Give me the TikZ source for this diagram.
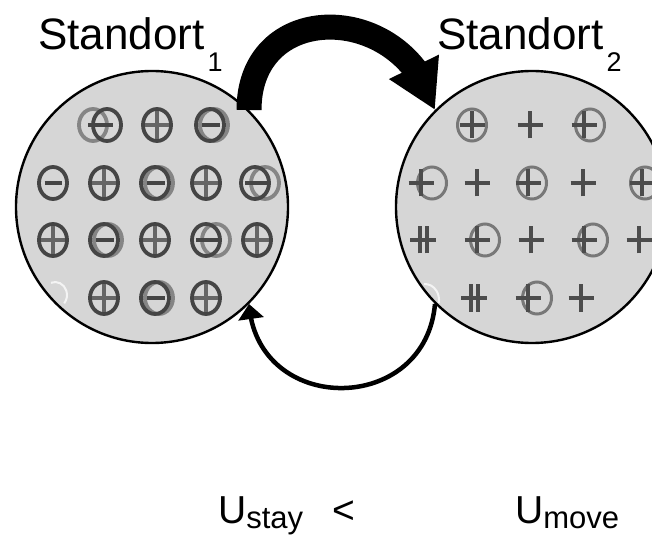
\documentclass[tikz,border=0pt]{standalone}
\usepackage{fontspec}
\setmainfont{Liberation Sans}
\usetikzlibrary{arrows.meta,bending}
\definecolor{ringfill}{gray}{0.84}
\definecolor{symdark}{gray}{0.27}
\definecolor{symbar}{gray}{0.40}
\definecolor{symlight}{gray}{0.52}
\definecolor{symring}{gray}{0.47}
\definecolor{symplus}{gray}{0.30}
\begin{document}
\begin{tikzpicture}[x=1pt,y=1pt,
  zone/.style={circle,draw=black,line width=2.4pt,fill=ringfill,inner sep=0pt,minimum size=272pt},
  lbl/.style={inner sep=0pt,font=\fontsize{44}{44}\selectfont},
  ulbl/.style={inner sep=0pt,font=\fontsize{39}{39}\selectfont},
  darkring/.style={draw=symdark,line width=3.8pt},
  lightring/.style={draw=symlight,line width=3.8pt},
  barline/.style={draw=symbar,line width=3.4pt},
  grayring/.style={draw=symring,line width=3pt},
  plusline/.style={draw=symplus,line width=4pt},
  bigarrow/.style={line width=25pt,-{Triangle[width=52pt,length=48pt]}},
  smallarrow/.style={line width=4.5pt,-{Triangle[width=25pt,length=15pt]}},
  ghost/.style={draw=white,opacity=0.75,line width=2pt},
  lP/.pic={\draw[darkring] (0,0) ellipse[x radius=14,y radius=16];
           \draw[barline] (-12,0)--(12,0) (0,-14)--(0,14);},
  lM/.pic={\draw[darkring] (0,0) ellipse[x radius=14,y radius=16];
           \draw[barline,draw=symdark] (-8.5,0)--(8.5,0);},
  lMb/.pic={\draw[lightring] (4,0) ellipse[x radius=14,y radius=16];
            \draw[darkring] (0,0) ellipse[x radius=14,y radius=16];
            \draw[barline,draw=symdark] (-8,0)--(10,0);},
  lMgL/.pic={\draw[lightring] (-14,0) ellipse[x radius=14,y radius=16];
             \draw[darkring] (0,0) ellipse[x radius=14,y radius=16];
             \draw[barline,draw=symdark] (-19,0)--(6,0);},
  lMgR/.pic={\draw[lightring] (10,0) ellipse[x radius=14,y radius=16];
             \draw[darkring] (0,0) ellipse[x radius=14,y radius=16];
             \draw[barline,draw=symdark] (-10,0)--(12,0);},
  rRing/.pic={\draw[grayring] (0,0) ellipse[x radius=14.5,y radius=16];},
  rPlus/.pic={\draw[plusline] (-12.5,0)--(12.5,0) (0,-13.5)--(0,13.5);},
  rDPlus/.pic={\draw[plusline] (-13,0)--(13,0) (-3.5,-13.5)--(-3.5,13.5) (3.5,-13.5)--(3.5,13.5);}
]
\clip (0,0) rectangle (652,541);
\useasboundingbox (0,0) rectangle (652,541);
\fill[white] (0,0) rectangle (652,541);

% zones
\node[zone] (L) at (152,334) {};
\node[zone] (R) at (532,334) {};

% left symbols
\pic at (107,416) {lMgL};
\pic at (157,416) {lP};
\pic at (210,416) {lMb};
\pic at (53,358) {lM};
\pic at (104,358) {lP};
\pic at (155,358) {lMb};
\pic at (206,358) {lP};
\pic at (255,358) {lMgR};
\pic at (53,301) {lP};
\pic at (104,301) {lMb};
\pic at (155,301) {lP};
\pic at (206,301) {lMgR};
\pic at (257,301) {lP};
\pic at (104,243) {lP};
\pic at (155,243) {lMb};
\pic at (206,243) {lP};
\draw[ghost] (50.9,258.2) arc[start angle=110,end angle=-40,x radius=12,y radius=13];

% right symbols
\pic at (472,416) {rRing}; \pic at (472,416) {rPlus};
\pic at (530,416) {rPlus};
\pic at (590,416) {rRing}; \pic at (584,416) {rPlus};
\pic at (432,358) {rRing}; \pic at (421,358) {rPlus};
\pic at (477,358) {rPlus};
\pic at (532,358) {rRing}; \pic at (528,358) {rPlus};
\pic at (583,358) {rPlus};
\pic at (645,358) {rRing}; \pic at (642,358) {rPlus};
\pic at (423,301) {rDPlus};
\pic at (485,301) {rRing}; \pic at (477,301) {rPlus};
\pic at (531,301) {rPlus};
\pic at (593,301) {rRing}; \pic at (584,301) {rPlus};
\pic at (639,301) {rPlus};
\pic at (474,243) {rDPlus};
\pic at (537,243) {rRing}; \pic at (528,243) {rPlus};
\pic at (581,243) {rPlus};
\draw[ghost] (423.8,256.9) arc[start angle=95,end angle=-10,x radius=14,y radius=16];

% connectors
\draw[bigarrow] (L.45) to[out=90,in=105,looseness=1.55] (R.135);
\draw[smallarrow] (R.225) to[out=-95,in=-86,looseness=1.55] (L.315);

% labels
\node[lbl,anchor=base west] (s1) at (38,491) {Standort\kern3pt\raisebox{-22pt}{\fontsize{27}{27}\selectfont 1}};
\node[lbl,anchor=base west] (s2) at (437,491) {Standort\kern3pt\raisebox{-22pt}{\fontsize{27}{27}\selectfont 2}};
\node[ulbl,anchor=base west] (us) at (218,18) {U\raisebox{-5pt}{\fontsize{31}{31}\selectfont stay}};
\node[ulbl,anchor=base] (lt) at (344,18) {<};
\node[ulbl,anchor=base west] (um) at (515,18) {U\raisebox{-5pt}{\fontsize{31}{31}\selectfont move}};
\end{tikzpicture}
\end{document}
